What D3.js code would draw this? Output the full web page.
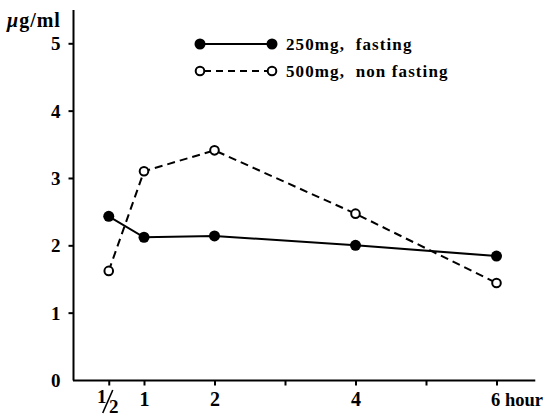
<!DOCTYPE html>
<html><head><meta charset="utf-8">
<script src="https://cdn.jsdelivr.net/npm/d3@7"></script>
<style>
html,body{margin:0;padding:0;background:#fff;}
text{font-family:"Liberation Serif","Times New Roman",serif;font-weight:bold;fill:#000;}
</style></head>
<body><svg id="c" width="545" height="416"></svg>
<script>
const hours = [0.5, 1, 2, 4, 6];
const fasting250 = [2.43, 2.12, 2.14, 2.00, 1.84];
const nonFasting500 = [1.62, 3.10, 3.41, 2.47, 1.44];
const yTicks = [0, 1, 2, 3, 4, 5];
const xTicks = [0.5, 1, 2, 3, 4, 5, 6];
const xTickLabels = {1: "1", 2: "2", 4: "4"};
const seriesNames = ["250mg,  fasting", "500mg,  non fasting"];

const svg = d3.select("#c");
const x = d3.scaleLinear().domain([0, 6]).range([73.5, 496.5]);
const y = d3.scaleLinear().domain([0, 5]).range([380, 43.3]);

// axes lines
svg.append("line").attr("x1", 73.5).attr("x2", 73.5).attr("y1", 10).attr("y2", 380.5)
  .attr("stroke", "#000").attr("stroke-width", 2);
svg.append("line").attr("x1", 73).attr("x2", x(6.55)).attr("y1", 380.5).attr("y2", 380.5)
  .attr("stroke", "#000").attr("stroke-width", 2);

// y ticks
const yAxis = d3.axisLeft(y).tickValues(yTicks).tickSize(5).tickPadding(8).tickFormat(d3.format("d"));
const gy = svg.append("g").attr("transform", "translate(73.5,0)").call(yAxis);
gy.select(".domain").remove();
gy.selectAll(".tick line").attr("stroke-width", 2);
gy.selectAll(".tick text").style("font-size", "19px").attr("dy", "0.35em");
gy.selectAll(".tick").filter(d => d === 0).select("line").remove();

// x ticks
const xAxis = d3.axisBottom(x).tickValues(xTicks).tickSize(5).tickPadding(5).tickFormat(d => xTickLabels[d] || "");
const gx = svg.append("g").attr("transform", "translate(0,380.5)").call(xAxis);
gx.select(".domain").remove();
gx.selectAll(".tick line").attr("stroke-width", 2);
gx.selectAll(".tick text").style("font-size", "20px").attr("y", 25).attr("dy", 0);

// custom 1/2 label
const hx = x(0.5);
svg.append("text").attr("x", hx - 7).attr("y", 403).attr("text-anchor", "middle").style("font-size", "19px").text("1");
svg.append("line").attr("x1", hx - 6).attr("x2", hx + 4).attr("y1", 413).attr("y2", 390)
  .attr("stroke", "#000").attr("stroke-width", 1.6);
svg.append("text").attr("x", hx + 5).attr("y", 413).attr("text-anchor", "middle").style("font-size", "19px").text("2");

// 6 hour label
svg.append("text").attr("x", x(6) - 5.5).attr("y", 405.5).style("font-size", "18.5px").text("6 hour");

// unit label
const ul = svg.append("text").attr("x", 7).attr("y", 27).style("font-size", "20px").style("letter-spacing", "1px");
ul.append("tspan").text("μ").style("font-style", "italic");
ul.append("tspan").text("g/ml");

// lines
const line = d3.line().x((d, i) => x(hours[i])).y(d => y(d));
svg.append("path").datum(fasting250).attr("d", line).attr("fill", "none")
  .attr("stroke", "#000").attr("stroke-width", 2);
svg.append("path").datum(nonFasting500).attr("d", line).attr("fill", "none")
  .attr("stroke", "#000").attr("stroke-width", 2).attr("stroke-dasharray", "8,5");

svg.selectAll(".pf").data(fasting250).enter().append("circle")
  .attr("cx", (d, i) => x(hours[i])).attr("cy", d => y(d)).attr("r", 5.5).attr("fill", "#000");
svg.selectAll(".po").data(nonFasting500).enter().append("circle")
  .attr("cx", (d, i) => x(hours[i])).attr("cy", d => y(d)).attr("r", 4.3)
  .attr("fill", "#fff").attr("stroke", "#000").attr("stroke-width", 2);

// legend
const lg = svg.append("g");
lg.append("line").attr("x1", 200).attr("x2", 272).attr("y1", 44).attr("y2", 44).attr("stroke", "#000").attr("stroke-width", 2);
lg.append("circle").attr("cx", 200).attr("cy", 44).attr("r", 5.5);
lg.append("circle").attr("cx", 272).attr("cy", 44).attr("r", 5.5);
lg.append("line").attr("x1", 200).attr("x2", 272).attr("y1", 71).attr("y2", 71).attr("stroke", "#000").attr("stroke-width", 2).attr("stroke-dasharray", "7,5").attr("stroke-dashoffset", -4);
lg.append("circle").attr("cx", 200).attr("cy", 71).attr("r", 4.3).attr("fill", "#fff").attr("stroke", "#000").attr("stroke-width", 2);
lg.append("circle").attr("cx", 272).attr("cy", 71).attr("r", 4.3).attr("fill", "#fff").attr("stroke", "#000").attr("stroke-width", 2);
lg.append("text").attr("x", 286).attr("y", 50).style("font-size", "17px").style("letter-spacing", "1.1px").style("white-space", "pre").text(seriesNames[0]);
lg.append("text").attr("x", 286).attr("y", 77).style("font-size", "17px").style("letter-spacing", "1.1px").style("white-space", "pre").text(seriesNames[1]);
</script></body></html>
